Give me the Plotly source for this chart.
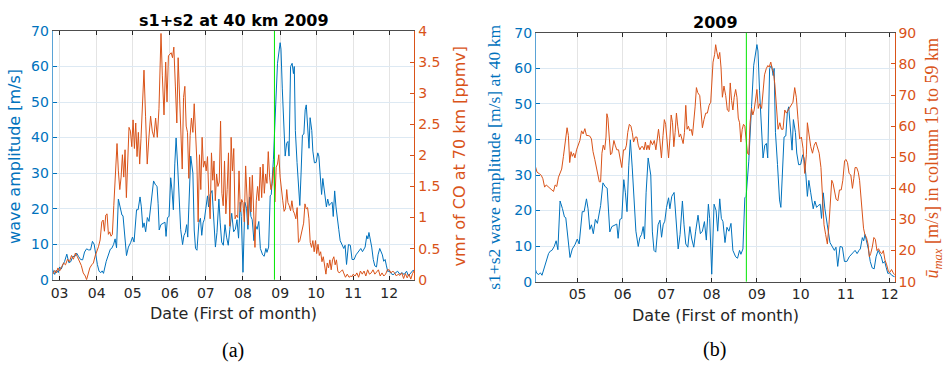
import datetime as dt
import plotly.graph_objects as go

YEAR = 2009
BLUE = "#0072BD"
ORANGE = "#D95319"
GREEN = "#00e600"
SANS = "DejaVu Sans"
SERIF = "Liberation Serif"

# ---- s1+s2 wave amplitude at 40 km [m/s]; dates as (month, day of month) ----
wave_dates = [
    (2, 23.0), (2, 23.5), (2, 24.9), (2, 26.3), (2, 27.9),
    (3, 1.0), (3, 2.4), (3, 3.7), (3, 5.1), (3, 7.0), (3, 8.7), (3, 10.3), (3, 12.0), (3, 13.6),
    (3, 15.2), (3, 16.9), (3, 18.5), (3, 20.2), (3, 21.8), (3, 23.5), (3, 25.1), (3, 26.8),
    (3, 28.4), (3, 29.8), (3, 31.1),
    (4, 1.5), (4, 2.9), (4, 4.4), (4, 5.5), (4, 6.6), (4, 8.9), (4, 11.1), (4, 12.3), (4, 13.4),
    (4, 15.0), (4, 16.3), (4, 17.5), (4, 19.0), (4, 20.6), (4, 22.0), (4, 22.9), (4, 24.2),
    (4, 25.8), (4, 27.4), (4, 29.2), (4, 30.8),
    (5, 2.1), (5, 4.2), (5, 5.5), (5, 7.1), (5, 8.2), (5, 9.4), (5, 10.5), (5, 11.8), (5, 13.2),
    (5, 14.6), (5, 15.7), (5, 16.8), (5, 18.4), (5, 20.0), (5, 21.3), (5, 22.2), (5, 23.1),
    (5, 24.5), (5, 26.3), (5, 27.9), (5, 28.8), (5, 30.0), (5, 31.3),
    (6, 1.7), (6, 2.8), (6, 3.9), (6, 5.1), (6, 6.2), (6, 7.5), (6, 8.9), (6, 10.0), (6, 11.6),
    (6, 12.7), (6, 13.9), (6, 15.0), (6, 15.9), (6, 17.0), (6, 18.4), (6, 20.2), (6, 21.3),
    (6, 22.4), (6, 23.6), (6, 25.2), (6, 26.5), (6, 27.6), (6, 28.7), (6, 29.8),
    (7, 1.0), (7, 2.4), (7, 3.3), (7, 4.6), (7, 6.2), (7, 7.4), (7, 9.0), (7, 10.3), (7, 11.9),
    (7, 13.0), (7, 14.2), (7, 15.6), (7, 17.0), (7, 18.3), (7, 19.7), (7, 21.0), (7, 22.6),
    (7, 24.2), (7, 25.6), (7, 27.0), (7, 28.3), (7, 29.7), (7, 30.6),
    (8, 1.0), (8, 2.6), (8, 4.0), (8, 5.1), (8, 6.5), (8, 7.6), (8, 8.7), (8, 10.1), (8, 11.4),
    (8, 12.8), (8, 14.2), (8, 15.5), (8, 17.4), (8, 18.7), (8, 20.1), (8, 21.0), (8, 22.4),
    (8, 23.7), (8, 24.6), (8, 26.4), (8, 28.3), (8, 29.8),
    (9, 1.0), (9, 1.7), (9, 2.8), (9, 3.9), (9, 5.2), (9, 6.4), (9, 7.5), (9, 8.4), (9, 9.7),
    (9, 11.0), (9, 12.1), (9, 12.8), (9, 13.7), (9, 15.1), (9, 16.5), (9, 17.4), (9, 18.5),
    (9, 19.6), (9, 20.8), (9, 21.9), (9, 22.8), (9, 24.0), (9, 25.1), (9, 26.0), (9, 27.4),
    (9, 28.3), (9, 29.6),
    (10, 1.0), (10, 2.4), (10, 3.3), (10, 4.5), (10, 5.6), (10, 6.6), (10, 7.9), (10, 9.6),
    (10, 10.7), (10, 11.9), (10, 13.0), (10, 14.4), (10, 15.3), (10, 16.5), (10, 17.6),
    (10, 18.8), (10, 19.9), (10, 21.1), (10, 22.7), (10, 24.1), (10, 25.2), (10, 26.4),
    (10, 28.0), (10, 29.6), (10, 31.0),
    (11, 1.7), (11, 3.3), (11, 4.6), (11, 6.2), (11, 7.3), (11, 8.7), (11, 10.0), (11, 10.9),
    (11, 12.3), (11, 13.2), (11, 14.1), (11, 15.2), (11, 16.4), (11, 17.7), (11, 19.0),
    (11, 20.4), (11, 21.7), (11, 23.1), (11, 24.2), (11, 25.3), (11, 26.4), (11, 27.6),
    (11, 28.7), (11, 29.8),
    (12, 1.0), (12, 2.4), (12, 4.2), (12, 6.0), (12, 8.0), (12, 10.0), (12, 11.5), (12, 13.5),
    (12, 15.5), (12, 17.0), (12, 19.0), (12, 21.0), (12, 22.0),
]
wave_amp = [
    3.0, 2.7, 1.5, 2.7, 2.0,
    3.6, 3.0, 4.2, 5.1, 7.2, 4.8, 5.1, 6.6, 6.5,
    7.5, 6.5, 5.7, 5.6, 7.8, 8.7, 8.4, 8.4,
    10.8, 10.0, 6.5,
    4.3, 2.4, 2.0, 2.5, 1.8, 5.2, 7.9, 8.6, 8.8,
    9.9, 11.5, 9.0, 22.7, 20.6, 18.2, 18.0, 13.3,
    6.8, 9.2, 10.4, 12.0,
    10.6, 19.7, 19.7, 23.3, 20.5, 14.7, 16.0, 13.5, 17.5,
    16.4, 19.6, 21.4, 27.8, 26.7, 26.3, 21.4, 14.0,
    15.5, 15.8, 16.2, 12.2, 17.5, 17.8,
    28.7, 25.0, 19.7, 32.6, 39.9, 32.0, 20.5, 14.2, 9.9,
    12.4, 13.3, 15.5, 12.0, 25.0, 34.8, 30.0, 14.0,
    8.8, 8.3, 16.0, 17.3, 12.5, 16.0, 17.0,
    20.9, 23.6, 20.5, 24.0, 25.1, 19.1, 9.2, 13.3, 22.7,
    16.0, 10.6, 9.7, 15.5, 12.0, 9.7, 14.2, 18.7,
    13.5, 14.2, 16.9, 11.7, 21.8, 17.8,
    2.1, 21.8, 20.0, 14.2, 23.3, 17.8, 16.9, 11.0, 15.3,
    14.2, 16.4, 8.8, 7.0, 6.6, 8.8, 7.7, 9.2,
    23.6, 24.0, 33.9, 49.2, 60.9,
    66.7, 64.9, 53.7, 43.4, 34.8, 38.4, 38.9, 34.8, 60.0,
    60.9, 58.0, 60.0, 42.0, 33.0, 23.0, 20.9, 30.3,
    40.7, 41.0, 47.8, 49.2, 42.0, 37.0, 45.6, 42.0,
    36.2, 32.9,
    33.0, 35.7, 34.8, 30.3, 24.0, 28.5, 25.0, 20.5,
    22.7, 20.9, 21.4, 21.8, 17.8, 25.0, 20.5,
    17.8, 14.2, 11.0, 9.7, 8.8, 9.7, 4.3,
    9.9, 9.7, 5.7,
    5.7, 7.0, 7.7, 8.3, 8.8, 7.9, 8.8, 9.2,
    12.4, 11.5, 13.3, 11.5, 9.2, 5.7, 3.9,
    3.6, 7.0, 8.8, 7.7, 7.0, 5.2, 5.7,
    3.9, 2.3,
    2.5, 1.8, 1.4, 2.0, 2.4, 1.5, 2.0, 1.5,
    2.4, 1.1, 2.0, 2.7, 2.4,
]

# ---- CO volume mixing ratio at 70 km [ppmv] ----
co_dates = [
    (2, 23.5), (2, 24.9), (2, 26.3), (2, 27.6),
    (3, 1.0), (3, 2.6), (3, 4.3), (3, 5.9), (3, 7.6), (3, 9.2), (3, 10.9), (3, 12.5), (3, 14.2),
    (3, 15.8), (3, 17.4), (3, 19.1), (3, 20.7), (3, 22.4), (3, 23.5), (3, 24.8), (3, 26.2),
    (3, 27.8), (3, 29.2), (3, 30.6),
    (4, 1.0), (4, 2.4), (4, 3.8), (4, 5.2), (4, 6.3), (4, 7.4), (4, 8.5), (4, 9.6), (4, 10.7),
    (4, 11.8), (4, 12.9), (4, 14.0), (4, 15.2), (4, 16.6), (4, 17.9), (4, 19.0), (4, 20.2),
    (4, 21.3), (4, 22.4), (4, 23.5), (4, 24.6), (4, 25.7), (4, 26.8), (4, 27.9), (4, 29.1),
    (4, 30.2),
    (5, 1.3), (5, 2.4), (5, 3.5), (5, 4.6), (5, 5.7), (5, 6.8), (5, 7.9), (5, 9.0), (5, 10.4),
    (5, 11.7), (5, 13.1), (5, 14.5), (5, 15.9), (5, 17.3), (5, 18.7), (5, 20.1), (5, 21.5),
    (5, 22.9), (5, 24.6), (5, 25.7), (5, 27.1), (5, 28.5), (5, 29.6), (5, 30.8),
    (6, 1.0), (6, 2.1), (6, 3.2), (6, 4.3), (6, 5.6), (6, 6.8), (6, 7.9), (6, 9.0), (6, 10.2),
    (6, 11.3), (6, 12.4), (6, 13.5), (6, 14.6), (6, 15.7), (6, 16.8), (6, 17.9), (6, 19.0),
    (6, 20.2), (6, 21.3), (6, 22.4), (6, 23.5), (6, 24.6), (6, 25.7), (6, 26.8), (6, 27.9),
    (6, 29.0), (6, 30.2),
    (7, 1.3), (7, 2.4), (7, 3.5), (7, 4.6), (7, 5.7), (7, 6.8), (7, 7.8), (7, 8.9), (7, 10.0),
    (7, 11.1), (7, 12.2), (7, 13.3), (7, 14.4), (7, 15.5), (7, 16.6), (7, 17.7), (7, 18.8),
    (7, 19.9), (7, 21.0), (7, 22.1), (7, 23.2), (7, 24.3), (7, 25.4), (7, 26.5), (7, 27.6),
    (7, 28.7), (7, 29.8), (7, 30.9),
    (8, 1.0), (8, 2.1), (8, 3.2), (8, 4.3), (8, 5.4), (8, 6.6), (8, 7.7), (8, 8.8), (8, 9.9),
    (8, 11.0), (8, 12.1), (8, 13.2), (8, 14.3), (8, 15.4), (8, 16.6), (8, 17.7), (8, 18.8),
    (8, 19.9), (8, 21.0), (8, 22.1), (8, 23.2), (8, 24.3), (8, 25.4), (8, 26.6), (8, 27.6),
    (8, 28.7), (8, 29.8), (8, 30.9),
    (9, 1.0), (9, 2.1), (9, 3.2), (9, 4.3), (9, 5.4), (9, 6.5), (9, 7.5), (9, 8.6), (9, 9.7),
    (9, 10.8), (9, 11.9), (9, 13.0), (9, 14.1), (9, 15.2), (9, 16.3), (9, 17.4), (9, 18.4),
    (9, 19.5), (9, 20.6), (9, 21.7), (9, 22.8), (9, 23.9), (9, 25.0), (9, 26.1), (9, 27.2),
    (9, 28.3), (9, 29.4), (9, 30.5),
    (10, 1.5), (10, 2.6), (10, 3.7), (10, 4.8), (10, 5.9), (10, 7.0), (10, 8.1), (10, 9.2),
    (10, 10.3), (10, 11.4), (10, 12.5), (10, 13.6), (10, 14.7), (10, 15.8), (10, 16.9),
    (10, 18.0), (10, 19.1), (10, 20.2), (10, 21.5), (10, 23.0), (10, 24.0), (10, 25.5),
    (10, 27.0), (10, 28.5), (10, 30.0), (10, 31.0),
    (11, 1.0), (11, 2.5), (11, 4.0), (11, 5.5), (11, 7.0), (11, 8.5), (11, 10.0), (11, 11.5),
    (11, 13.0), (11, 14.5), (11, 16.0), (11, 17.5), (11, 19.0), (11, 20.5), (11, 22.0),
    (11, 23.5), (11, 25.0), (11, 26.5), (11, 28.0), (11, 29.5),
    (12, 1.0), (12, 2.5), (12, 4.0), (12, 5.5), (12, 7.0), (12, 8.5), (12, 10.0), (12, 11.5),
    (12, 13.0), (12, 14.5), (12, 16.0), (12, 17.5), (12, 19.0), (12, 20.5), (12, 22.0),
]
co_vmr = [
    0.09, 0.15, 0.11, 0.19,
    0.14, 0.20, 0.27, 0.24, 0.33, 0.29, 0.39, 0.33, 0.43,
    0.37, 0.29, 0.23, 0.11, 0.06, 0.00, 0.09, 0.19,
    0.24, 0.27, 0.38,
    0.45, 0.53, 0.64, 0.93, 0.96, 0.78, 1.04, 1.06, 0.73,
    0.77, 0.70, 0.73, 1.19, 1.65, 2.19, 1.75, 1.45,
    1.65, 2.01, 1.65, 2.09, 1.32, 1.81, 2.45, 2.39,
    2.14,
    2.57, 2.11, 2.52, 1.98, 2.37, 1.86, 2.27, 2.73, 3.37,
    2.63, 1.86, 2.29, 2.63, 2.39, 2.29, 2.60, 2.29,
    2.75, 3.96, 3.29, 2.65, 3.50, 2.86, 3.60,
    3.63, 3.65, 3.57, 3.74, 3.10, 2.52, 3.57, 3.04, 2.37,
    1.78, 2.93, 3.11, 2.47, 2.37, 1.63, 2.32, 2.60,
    2.37, 2.83, 2.22, 1.91, 0.93, 2.01, 1.45, 2.29,
    1.81, 1.91,
    1.75, 1.98, 1.34, 0.98, 2.04, 1.60, 1.91, 1.27, 1.70,
    1.50, 1.57, 2.55, 1.39, 1.19, 1.91, 1.06, 1.45,
    2.04, 0.86, 2.29, 1.75, 2.11, 0.98, 1.04, 1.00,
    1.75, 1.09, 1.29,
    1.24, 0.93, 1.83, 1.39, 0.88, 1.65, 1.09, 1.68, 1.19,
    0.52, 1.27, 1.50, 1.27, 1.81, 1.32, 1.86, 1.39,
    1.70, 1.55, 2.06, 1.65, 1.45, 1.55, 1.81, 1.25,
    1.81, 1.86, 2.01,
    1.65, 1.50, 1.27, 1.10, 1.14, 1.45, 1.24, 1.19, 1.11,
    1.27, 1.11, 1.06, 0.98, 1.16, 0.60, 0.63, 0.73,
    0.83, 0.91, 1.22, 1.14, 1.16, 0.98, 0.60, 0.52,
    0.63, 0.45, 0.63,
    0.42, 0.57, 0.39, 0.45, 0.29, 0.37, 0.24, 0.09,
    0.27, 0.19, 0.32, 0.16, 0.32, 0.37, 0.24,
    0.32, 0.14, 0.11, 0.13, 0.16, 0.11, 0.04,
    0.09, 0.04, 0.06, 0.05,
    0.09, 0.06, 0.11, 0.04, 0.14, 0.09, 0.14, 0.06,
    0.16, 0.09, 0.11, 0.16, 0.09, 0.13, 0.16,
    0.06, 0.11, 0.06, 0.09, 0.16,
    0.16, 0.11, 0.14, 0.11, 0.06, 0.09, 0.07, 0.11,
    0.02, 0.10, 0.03, 0.09, 0.01, 0.10, 0.15,
]

# ---- maximum zonal-mean wind in column 15 to 59 km [m/s] ----
umax_dates = [
    (4, 2.0), (4, 3.2), (4, 4.8), (4, 6.1), (4, 7.2), (4, 8.4), (4, 9.5), (4, 10.6), (4, 11.8),
    (4, 13.4), (4, 14.5), (4, 15.6), (4, 16.7), (4, 17.9), (4, 19.0), (4, 20.1), (4, 21.3),
    (4, 22.4), (4, 23.8), (4, 24.7), (4, 25.6), (4, 26.5), (4, 27.4), (4, 28.3), (4, 29.2),
    (4, 30.3),
    (5, 1.5), (5, 2.6), (5, 3.7), (5, 4.8), (5, 6.0), (5, 7.1), (5, 8.2), (5, 9.4), (5, 10.5),
    (5, 11.6), (5, 12.8), (5, 13.9), (5, 15.0), (5, 15.9), (5, 16.8), (5, 17.7), (5, 18.6),
    (5, 19.6), (5, 20.5), (5, 21.1), (5, 21.8), (5, 22.7), (5, 23.6), (5, 24.5), (5, 25.9),
    (5, 26.8), (5, 27.9), (5, 29.1), (5, 30.2), (5, 31.3),
    (6, 1.5), (6, 2.6), (6, 3.5), (6, 4.4), (6, 5.5), (6, 6.6), (6, 7.5), (6, 8.4), (6, 9.6),
    (6, 10.7), (6, 11.6), (6, 12.7), (6, 13.8), (6, 14.7), (6, 15.6), (6, 16.5), (6, 17.4),
    (6, 18.3), (6, 19.2), (6, 20.1), (6, 21.4), (6, 22.6), (6, 23.7), (6, 24.8), (6, 25.5),
    (6, 26.3), (6, 27.5), (6, 28.6), (6, 29.5), (6, 30.4),
    (7, 1.5), (7, 2.4), (7, 3.3), (7, 4.2), (7, 5.1), (7, 6.0), (7, 6.9), (7, 7.8), (7, 8.7),
    (7, 9.7), (7, 10.6), (7, 11.5), (7, 12.4), (7, 13.3), (7, 14.2), (7, 15.1), (7, 16.0),
    (7, 16.9), (7, 17.9), (7, 18.8), (7, 19.7), (7, 20.6), (7, 21.5), (7, 22.4), (7, 23.8),
    (7, 24.7), (7, 25.6), (7, 26.7), (7, 27.9), (7, 29.0), (7, 30.2), (7, 31.3),
    (8, 1.2), (8, 1.9), (8, 3.0), (8, 3.7), (8, 4.6), (8, 5.5), (8, 6.5), (8, 7.4), (8, 8.3),
    (8, 9.4), (8, 10.6), (8, 11.7), (8, 12.8), (8, 13.7), (8, 14.6), (8, 15.5), (8, 16.4),
    (8, 17.4), (8, 18.3), (8, 19.2), (8, 20.1), (8, 21.0), (8, 21.9), (8, 22.8), (8, 23.7),
    (8, 24.6), (8, 25.5), (8, 26.4), (8, 27.3), (8, 28.3), (8, 29.2), (8, 30.1), (8, 31.0),
    (9, 1.0), (9, 1.9), (9, 2.8), (9, 4.2), (9, 5.1), (9, 6.2), (9, 7.4), (9, 8.5), (9, 9.4),
    (9, 10.5), (9, 11.4), (9, 12.3), (9, 13.3), (9, 14.4), (9, 15.5), (9, 16.7), (9, 17.8),
    (9, 18.9), (9, 20.1), (9, 21.2), (9, 22.4), (9, 23.5), (9, 24.6), (9, 25.7), (9, 26.9),
    (9, 28.0), (9, 29.2), (9, 30.3),
    (10, 1.5), (10, 2.6), (10, 3.8), (10, 4.9), (10, 5.6), (10, 6.8), (10, 7.9), (10, 9.1),
    (10, 10.3), (10, 11.4), (10, 12.6), (10, 13.7), (10, 14.9), (10, 15.8), (10, 17.0),
    (10, 18.1), (10, 19.3), (10, 20.4), (10, 21.4), (10, 22.3), (10, 23.2), (10, 24.1),
    (10, 25.3), (10, 26.5), (10, 27.6), (10, 28.8), (10, 29.9), (10, 31.1),
    (11, 1.0), (11, 2.1), (11, 3.2), (11, 4.4), (11, 5.5), (11, 6.4), (11, 7.3), (11, 8.4),
    (11, 9.5), (11, 10.4), (11, 11.3), (11, 12.2), (11, 13.1), (11, 14.0), (11, 15.1),
    (11, 16.2), (11, 17.1), (11, 18.0), (11, 19.1), (11, 20.2), (11, 21.2), (11, 22.3),
    (11, 23.4), (11, 24.5), (11, 25.6), (11, 26.7), (11, 27.8), (11, 29.0), (11, 30.1),
    (12, 1.0), (12, 2.3), (12, 3.4), (12, 4.6),
]
umax_speed = [
    47.2, 45.2, 44.7, 44.2, 43.1, 40.4, 41.1, 40.6, 40.0,
    39.5, 39.0, 41.1, 40.6, 43.6, 44.7, 46.2, 50.3,
    53.9, 59.5, 57.0, 48.3, 51.8, 50.3, 51.3, 49.8,
    52.4,
    53.9, 55.4, 58.5, 57.5, 59.2, 57.0, 57.0, 56.8, 55.9,
    51.8, 49.3, 46.7, 43.6, 42.1, 42.1, 51.3, 53.9,
    52.4, 56.5, 64.0, 62.6, 56.5, 50.8, 51.3, 55.4,
    53.9, 52.4, 52.4, 49.3, 46.7,
    52.4, 52.4, 53.9, 58.0, 60.6, 60.0, 58.0, 54.9, 56.5,
    56.5, 53.9, 52.4, 53.4, 53.4, 52.4, 54.9, 52.4,
    53.9, 52.4, 55.4, 54.0, 55.4, 52.4, 56.5, 59.0,
    55.9, 49.8, 57.0, 62.1, 60.6,
    54.9, 49.8, 55.9, 63.6, 61.1, 53.4, 58.0, 64.2, 60.0,
    56.5, 57.5, 55.4, 54.4, 58.0, 66.7, 59.0, 60.0,
    58.5, 59.0, 57.0, 61.1, 66.2, 72.4, 70.8, 69.8,
    65.2, 59.5, 62.1, 64.2, 64.2, 66.7, 67.7,
    74.4, 80.6, 83.1, 86.2, 83.7, 81.6, 83.7, 78.7, 69.3,
    72.9, 69.8, 65.2, 64.7, 73.9, 68.3, 65.2, 69.3,
    71.8, 69.3, 62.6, 61.1, 54.9, 59.0, 60.6, 60.0,
    55.4, 51.3, 50.8, 61.1, 65.7, 63.6, 65.2, 68.3,
    71.8, 65.7, 67.2, 65.7, 71.8, 76.5, 78.5, 79.5, 79.0,
    80.6, 78.5, 77.4, 73.4, 66.2, 59.0, 61.1, 59.0,
    59.0, 65.2, 64.2, 65.2, 66.2, 67.2, 67.7, 72.4,
    69.3, 62.1, 55.9,
    56.5, 52.9, 44.8, 50.8, 61.1, 57.0, 53.4, 51.3,
    53.9, 54.9, 52.9, 51.3, 46.7, 38.5, 28.3,
    25.2, 22.1, 28.3, 34.9, 42.6, 41.6, 39.5,
    36.5, 36.0, 39.5, 39.5, 42.6, 48.8,
    49.3, 48.3, 44.8, 44.3, 40.0, 43.1, 46.7, 46.7,
    45.2, 42.6, 36.5, 31.3, 27.2, 25.2, 24.2,
    22.1, 18.0, 19.0, 21.1, 24.2, 23.6, 20.0,
    20.6, 19.5, 19.0, 20.0, 17.0, 15.4, 13.4,
    12.9, 13.9, 12.9, 12.1,
]

# marked event dates (vertical green lines)
event_a = "2009-08-27 06:00"
event_b = "2009-08-24 18:00"

assert len(wave_dates) == len(wave_amp)
assert len(co_dates) == len(co_vmr)
assert len(umax_dates) == len(umax_speed)


def to_dates(md):
    return [dt.datetime(YEAR, m, 1) + dt.timedelta(days=d - 1) for m, d in md]


wave_x = to_dates(wave_dates)
co_x = to_dates(co_dates)
umax_x = to_dates(umax_dates)

W, H = 947, 371


def px(x):
    return x / W


def py(y):
    return 1 - y / H


fig = go.Figure()
line_kw = dict(mode="lines", hoverinfo="skip", showlegend=False)
fig.add_trace(go.Scatter(x=wave_x, y=wave_amp, xaxis="x", yaxis="y",
                         line=dict(color=BLUE, width=1), **line_kw))
fig.add_trace(go.Scatter(x=co_x, y=co_vmr, xaxis="x", yaxis="y2",
                         line=dict(color=ORANGE, width=1), **line_kw))
fig.add_trace(go.Scatter(x=wave_x, y=wave_amp, xaxis="x2", yaxis="y3",
                         line=dict(color=BLUE, width=1), **line_kw))
fig.add_trace(go.Scatter(x=umax_x, y=umax_speed, xaxis="x2", yaxis="y4",
                         line=dict(color=ORANGE, width=1), **line_kw))

tick_font = dict(family=SANS, size=14, color="#262626")


def xaxis(domain, anchor, rng, tick0):
    return dict(domain=domain, anchor=anchor, type="date", range=rng,
                tickformat="%m", dtick="M1", tick0=tick0,
                ticks="inside", ticklen=4, tickcolor="#262626",
                showline=True, linecolor="#4d4d4d", linewidth=1, mirror="ticks",
                showgrid=True, gridcolor="#e4e4e4", gridwidth=1, zeroline=False,
                tickfont=tick_font)


def yleft(domain, anchor):
    return dict(domain=domain, anchor=anchor, range=[0, 70], dtick=10,
                ticks="inside", ticklen=4, tickcolor=BLUE,
                showline=True, linecolor="#5aa3d6", linewidth=1,
                showgrid=True, gridcolor="#dde9f3", gridwidth=1, zeroline=False,
                tickfont=dict(family=SANS, size=14, color=BLUE))


def yright(overlay, anchor, rng, dtick):
    return dict(overlaying=overlay, anchor=anchor, side="right", range=rng, dtick=dtick,
                ticks="inside", ticklen=4, tickcolor=ORANGE,
                showline=True, linecolor=ORANGE, linewidth=1,
                showgrid=False, zeroline=False,
                tickfont=dict(family=SANS, size=14, color=ORANGE))


dom_ax = [px(51), px(415)]
dom_ay = [py(284), py(24)]
dom_bx = [px(537.3), px(898.3)]
dom_by = [py(286), py(26)]

fig.update_layout(
    width=W, height=H,
    margin=dict(l=0, r=0, t=0, b=0),
    paper_bgcolor="white", plot_bgcolor="white",
    showlegend=False,
    xaxis=xaxis(dom_ax, "y", ["2009-02-23 05:00", "2009-12-22 00:00"], "2009-03-01"),
    yaxis=yleft(dom_ay, "x"),
    yaxis2=yright("y", "x", [0, 4], 0.5),
    xaxis2=xaxis(dom_bx, "y3", ["2009-04-02 10:00", "2009-12-04 10:00"], "2009-05-01"),
    yaxis3=yleft(dom_by, "x2"),
    yaxis4=yright("y3", "x2", [10, 90], 10),
)

fig.add_shape(type="line", xref="x", yref="y domain", x0=event_a, x1=event_a,
              y0=0, y1=1, line=dict(color=GREEN, width=1), layer="above")
fig.add_shape(type="line", xref="x2", yref="y3 domain", x0=event_b, x1=event_b,
              y0=0, y1=1, line=dict(color=GREEN, width=1), layer="above")


def label(text, x, y, size, color, family=SANS, angle=0):
    fig.add_annotation(text=text, x=px(x), y=py(y), xref="paper", yref="paper",
                       xanchor="center", yanchor="middle", showarrow=False,
                       textangle=angle, font=dict(family=family, size=size, color=color))


# panel titles
label("<b>s1+s2 at 40 km 2009</b>", 233, 13.5, 16, "#000000")
label("<b>2009</b>", 717.7, 15, 16, "#000000")
# axis titles, panel (a)
label("wave amplitude [m/s]", 12.7, 155, 16, BLUE, angle=-90)
label("vmr of CO at 70 km [ppmv]", 460, 155, 16, ORANGE, angle=-90)
label("Date (First of month)", 233, 319.5, 16, "#262626")
# axis titles, panel (b)
label("s1+s2 wave amplitude [m/s] at 40 km", 495.7, 156, 17.6, BLUE, family=SERIF, angle=-90)
label("<i>ū</i><sub><i>max</i></sub> [m/s] in column 15 to 59 km", 937.3, 157, 18, ORANGE,
      family=SERIF, angle=-90)
label("Date (First of month)", 717.7, 321.7, 16, "#262626")
# captions
label("(a)", 232.7, 358, 20, "#000000", family=SERIF)
label("(b)", 716.7, 357, 20, "#000000", family=SERIF)

fig.write_html("out.html")
